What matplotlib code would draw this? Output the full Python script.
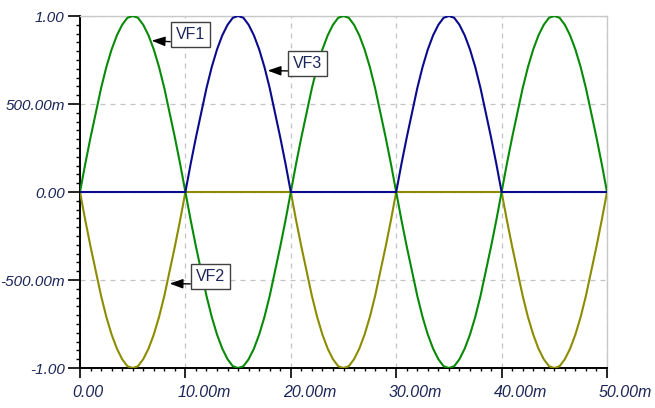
import numpy as np
import matplotlib
matplotlib.use("Agg")
import matplotlib.pyplot as plt
import matplotlib.transforms as mtransforms
from matplotlib.ticker import MultipleLocator

# time axis, in ms (0 .. 50 ms, 0.5 ms steps)
t_ms = np.linspace(0, 50, 101)

# values
VF1 = [0.00, 0.16, 0.31, 0.45, 0.59, 0.71, 0.81, 0.89, 0.95, 0.99, 1.00, 0.99, 0.95, 0.89, 0.81, 0.71, 0.59, 0.45, 0.31, 0.16,
       0.00, -0.16, -0.31, -0.45, -0.59, -0.71, -0.81, -0.89, -0.95, -0.99, -1.00, -0.99, -0.95, -0.89, -0.81, -0.71, -0.59, -0.45, -0.31, -0.16,
       0.00, 0.16, 0.31, 0.45, 0.59, 0.71, 0.81, 0.89, 0.95, 0.99, 1.00, 0.99, 0.95, 0.89, 0.81, 0.71, 0.59, 0.45, 0.31, 0.16,
       0.00, -0.16, -0.31, -0.45, -0.59, -0.71, -0.81, -0.89, -0.95, -0.99, -1.00, -0.99, -0.95, -0.89, -0.81, -0.71, -0.59, -0.45, -0.31, -0.16,
       0.00, 0.16, 0.31, 0.45, 0.59, 0.71, 0.81, 0.89, 0.95, 0.99, 1.00, 0.99, 0.95, 0.89, 0.81, 0.71, 0.59, 0.45, 0.31, 0.16,
       0.00]

VF2 = [0.00, -0.16, -0.31, -0.45, -0.59, -0.71, -0.81, -0.89, -0.95, -0.99, -1.00, -0.99, -0.95, -0.89, -0.81, -0.71, -0.59, -0.45, -0.31, -0.16,
       0.00, 0.00, 0.00, 0.00, 0.00, 0.00, 0.00, 0.00, 0.00, 0.00, 0.00, 0.00, 0.00, 0.00, 0.00, 0.00, 0.00, 0.00, 0.00, 0.00,
       0.00, -0.16, -0.31, -0.45, -0.59, -0.71, -0.81, -0.89, -0.95, -0.99, -1.00, -0.99, -0.95, -0.89, -0.81, -0.71, -0.59, -0.45, -0.31, -0.16,
       0.00, 0.00, 0.00, 0.00, 0.00, 0.00, 0.00, 0.00, 0.00, 0.00, 0.00, 0.00, 0.00, 0.00, 0.00, 0.00, 0.00, 0.00, 0.00, 0.00,
       0.00, -0.16, -0.31, -0.45, -0.59, -0.71, -0.81, -0.89, -0.95, -0.99, -1.00, -0.99, -0.95, -0.89, -0.81, -0.71, -0.59, -0.45, -0.31, -0.16,
       0.00]

VF3 = [0.00, 0.00, 0.00, 0.00, 0.00, 0.00, 0.00, 0.00, 0.00, 0.00, 0.00, 0.00, 0.00, 0.00, 0.00, 0.00, 0.00, 0.00, 0.00, 0.00,
       0.00, 0.16, 0.31, 0.45, 0.59, 0.71, 0.81, 0.89, 0.95, 0.99, 1.00, 0.99, 0.95, 0.89, 0.81, 0.71, 0.59, 0.45, 0.31, 0.16,
       0.00, 0.00, 0.00, 0.00, 0.00, 0.00, 0.00, 0.00, 0.00, 0.00, 0.00, 0.00, 0.00, 0.00, 0.00, 0.00, 0.00, 0.00, 0.00, 0.00,
       0.00, 0.16, 0.31, 0.45, 0.59, 0.71, 0.81, 0.89, 0.95, 0.99, 1.00, 0.99, 0.95, 0.89, 0.81, 0.71, 0.59, 0.45, 0.31, 0.16,
       0.00, 0.00, 0.00, 0.00, 0.00, 0.00, 0.00, 0.00, 0.00, 0.00, 0.00, 0.00, 0.00, 0.00, 0.00, 0.00, 0.00, 0.00, 0.00, 0.00,
       0.00]

xticks = [0, 10, 20, 30, 40, 50]
xtick_labels = ['0.00', '10.00m', '20.00m', '30.00m', '40.00m', '50.00m']
yticks = [-1.0, -0.5, 0.0, 0.5, 1.0]
ytick_labels = ['-1.00', '-500.00m', '0.00', '500.00m', '1.00']

# label name, arrow tip (ms, value), box centre (ms, value)
labels = [('VF1', (6.8, 0.86), (10.45, 0.895)),
          ('VF3', (17.8, 0.69), (21.6, 0.73)),
          ('VF2', (8.5, -0.52), (12.35, -0.48))]

plt.rcParams['font.family'] = ['Liberation Sans', 'DejaVu Sans']
text_col = '#1c2558'

fig = plt.figure(figsize=(6.55, 4.08), dpi=100)
ax = fig.add_axes([80 / 655, 1 - 368 / 408, 527 / 655, 352 / 408])

ax.plot(t_ms, VF2, color='#8c8c00', lw=1.5, zorder=3)
ax.plot(t_ms, VF1, color='#078a07', lw=1.5, zorder=4)
ax.plot(t_ms, VF3, color='#0a0a8c', lw=1.5, zorder=5)

ax.set_xlim(0, 50)
ax.set_ylim(-1, 1)

ax.set_xticks(xticks)
ax.set_xticklabels(xtick_labels, fontsize=11.5, style='italic', color=text_col, ha='left')
ax.set_yticks(yticks)
ax.set_yticklabels(ytick_labels, fontsize=11, style='italic', color=text_col)
ax.xaxis.set_minor_locator(MultipleLocator(1))
ax.yaxis.set_minor_locator(MultipleLocator(0.05))

ax.tick_params(axis='x', which='major', direction='out', length=7, width=1.2, pad=5)
ax.tick_params(axis='x', which='minor', direction='out', length=2, width=1)
ax.tick_params(axis='y', which='major', direction='out', length=9, width=1.2, pad=2)
ax.tick_params(axis='y', which='minor', direction='out', length=3, width=1)

offset = mtransforms.ScaledTranslation(-8 / 100, 0, fig.dpi_scale_trans)
for lab in ax.get_xticklabels():
    lab.set_transform(lab.get_transform() + offset)

ax.grid(True, which='major', color='#c4c4c4', linestyle=(0, (4, 4)), lw=0.9)
ax.set_axisbelow(True)

for side in ['left', 'bottom']:
    ax.spines[side].set_color('black')
    ax.spines[side].set_linewidth(1.4)
for side in ['top', 'right']:
    ax.spines[side].set_color('#c8c8c8')
    ax.spines[side].set_linewidth(1.0)

for name, tip, box in labels:
    ax.annotate(name, xy=tip, xytext=box, ha='center', va='center',
                fontsize=11.5, color=text_col, zorder=10,
                bbox=dict(boxstyle='square,pad=0.3', fc='white', ec='#404040', lw=1),
                arrowprops=dict(arrowstyle='-|>,head_length=0.7,head_width=0.25',
                                color='black', lw=1, relpos=(0, 0),
                                shrinkA=0, shrinkB=0))

fig.savefig('out.png', dpi=100)
